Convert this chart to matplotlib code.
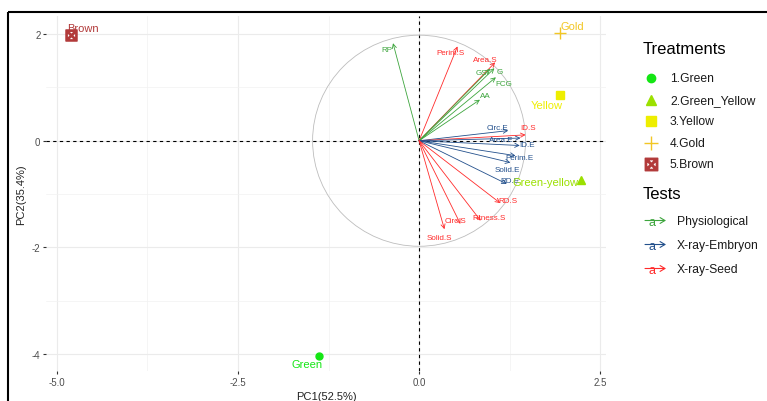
import matplotlib
matplotlib.use('Agg')
import matplotlib.pyplot as plt
from matplotlib.patches import Ellipse

plt.rcParams['font.family'] = ['Liberation Sans', 'DejaVu Sans']

# individuals (treatments)
treat_labels = ['Green', 'Green-yellow', 'Yellow', 'Gold', 'Brown']
treat_legend = ['1.Green', '2.Green_Yellow', '3.Yellow', '4.Gold', '5.Brown']
treat_pc1 = [-1.38, 2.24, 1.94, 1.95, -4.81]
treat_pc2 = [-4.04, -0.74, 0.86, 2.03, 1.98]

# variables (tests)
var_names = ['RP', 'Perim.S', 'Area.S', 'G', 'GSI', 'FCG', 'AA', 'Circ.E', 'ID.S',
             'Area.E', 'ID.E', 'Perim.E', 'Solid.E', 'RD.E', 'RD.S', 'Fitness.S',
             'Circ.S', 'Solid.S']
var_pc1 = [-0.36, 0.53, 1.05, 1.04, 0.98, 1.06, 0.84, 1.23, 1.47,
           1.40, 1.39, 1.33, 1.26, 1.21, 1.12, 0.85, 0.57, 0.35]
var_pc2 = [1.83, 1.77, 1.47, 1.36, 1.35, 1.19, 0.77, 0.19, 0.11,
           0.05, -0.09, -0.28, -0.41, -0.81, -1.17, -1.50, -1.56, -1.66]
var_group = ['Physiological', 'X-ray-Seed', 'X-ray-Seed', 'Physiological', 'Physiological',
             'Physiological', 'Physiological', 'X-ray-Embryon', 'X-ray-Seed',
             'X-ray-Embryon', 'X-ray-Embryon', 'X-ray-Embryon', 'X-ray-Embryon',
             'X-ray-Embryon', 'X-ray-Seed', 'X-ray-Seed', 'X-ray-Seed', 'X-ray-Seed']
test_groups = ['Physiological', 'X-ray-Embryon', 'X-ray-Seed']

# styles
treat_colors = ['#14E614', '#9BE000', '#EEEE00', '#F2C624', '#B23A3A']
treat_markers = ['o', '^', 's', '+', r'$\boxtimes$']
treat_sizes = [5, 6, 6, 9, 8]
group_colors = {'Physiological': '#3DA53D', 'X-ray-Embryon': '#23508C', 'X-ray-Seed': '#FF2B2B'}
# label offsets in pixels (label centre relative to point / arrow tip)
treat_off = [(-12, -8), (-36, -2), (-13, -10), (12, 7), (12, 7)]
var_off = [(-6, -6), (-7, -6), (-10, 3), (5, -3), (-8, -4), (8, -6), (5, 4), (-11, 3), (2, 7),
           (-19, -1), (7, 1), (4, -2), (-3, -7), (3, 3), (8, 3), (8, 3), (-5, 3), (-5, -8)]

fig = plt.figure(figsize=(7.67, 4.02), dpi=100)
ax = fig.add_axes([46 / 767, 1 - 372 / 402, 560 / 767, 355 / 402])
ax.set_xlim(-5.15, 2.58)
ax.set_ylim(-4.32, 2.34)

# theme_minimal look
for s in ax.spines.values():
    s.set_visible(False)
ax.set_xticks([-5.0, -2.5, 0.0, 2.5])
ax.set_xticklabels(['-5.0', '-2.5', '0.0', '2.5'])
ax.set_yticks([2, 0, -2, -4])
ax.set_yticklabels(['2', '0', '-2', '-4'])
ax.set_xticks([-3.75, -1.25, 1.25], minor=True)
ax.set_yticks([-3, -1, 1], minor=True)
ax.tick_params(which='major', length=2, width=0.8, color='#333333', labelcolor='#4D4D4D',
               labelsize=7, pad=2)
ax.tick_params(which='minor', length=0)
ax.grid(which='major', color='#EBEBEB', lw=0.8)
ax.grid(which='minor', color='#F2F2F2', lw=0.5)
ax.set_axisbelow(True)
ax.set_xlabel('PC1(52.5%)', fontsize=8, color='#222222', labelpad=3)
ax.set_ylabel('PC2(35.4%)', fontsize=8, color='#222222', labelpad=4)

ax.axhline(0, color='black', lw=0.8, ls=(0, (3, 3)), zorder=1)
ax.axvline(0, color='black', lw=0.8, ls=(0, (3, 3)), zorder=1)

# correlation circle (round on screen)
ax.add_patch(Ellipse((0, 0), 2 * 1.47, 2 * 1.98, fill=False, ec='#BDBDBD', lw=0.6, zorder=1))

# variable arrows
for name, x, y, g, off in zip(var_names, var_pc1, var_pc2, var_group, var_off):
    c = group_colors[g]
    ax.annotate('', xy=(x, y), xytext=(0, 0),
                arrowprops=dict(arrowstyle='->,head_length=0.5,head_width=0.25', color=c,
                                lw=0.6, shrinkA=0, shrinkB=0, mutation_scale=6), zorder=3)
    ax.annotate(name, xy=(x, y), xytext=off, textcoords='offset pixels', ha='center',
                va='center', fontsize=5.8, color=c, zorder=4)

# individuals
for lab, x, y, c, m, ms, off in zip(treat_labels, treat_pc1, treat_pc2, treat_colors,
                                    treat_markers, treat_sizes, treat_off):
    ax.plot(x, y, marker=m, color=c, ms=ms, mew=1, ls='none', zorder=5)
    ax.annotate(lab, xy=(x, y), xytext=off, textcoords='offset pixels', ha='center',
                va='center', fontsize=8, color=c, zorder=5)

# legends drawn in figure pixels
lax = fig.add_axes([0, 0, 1, 1])
lax.set_xlim(0, 767)
lax.set_ylim(402, 0)
lax.axis('off')
lax.patch.set_alpha(0)

lax.text(643, 50, 'Treatments', fontsize=12, va='center', ha='left')
for i, (lab, c, m, ms) in enumerate(zip(treat_legend, treat_colors, treat_markers, treat_sizes)):
    yy = 79 + i * 21.6
    lax.plot(651, yy, marker=m, color=c, ms=ms + 1, mew=1, ls='none')
    lax.text(670, yy, lab, fontsize=8.7, va='center', ha='left', color='#1A1A1A')

lax.text(643, 195, 'Tests', fontsize=12, va='center', ha='left')
for i, g in enumerate(test_groups):
    yy = 222.5 + i * 24
    c = group_colors[g]
    lax.text(652, yy + 1, 'a', fontsize=9, va='center', ha='center', color=c)
    lax.annotate('', xy=(666, yy - 1), xytext=(645, yy - 1),
                 arrowprops=dict(arrowstyle='->,head_length=0.5,head_width=0.3', color=c,
                                 lw=0.8, shrinkA=0, shrinkB=0, mutation_scale=7))
    lax.text(677, yy, g, fontsize=8.7, va='center', ha='left', color='#1A1A1A')

# black frame at left and top
lax.plot([8, 8], [13, 402], color='black', lw=1.5, solid_capstyle='butt')
lax.plot([8, 767], [13, 13], color='black', lw=1.5, solid_capstyle='butt')

fig.savefig('out.png', dpi=100)
